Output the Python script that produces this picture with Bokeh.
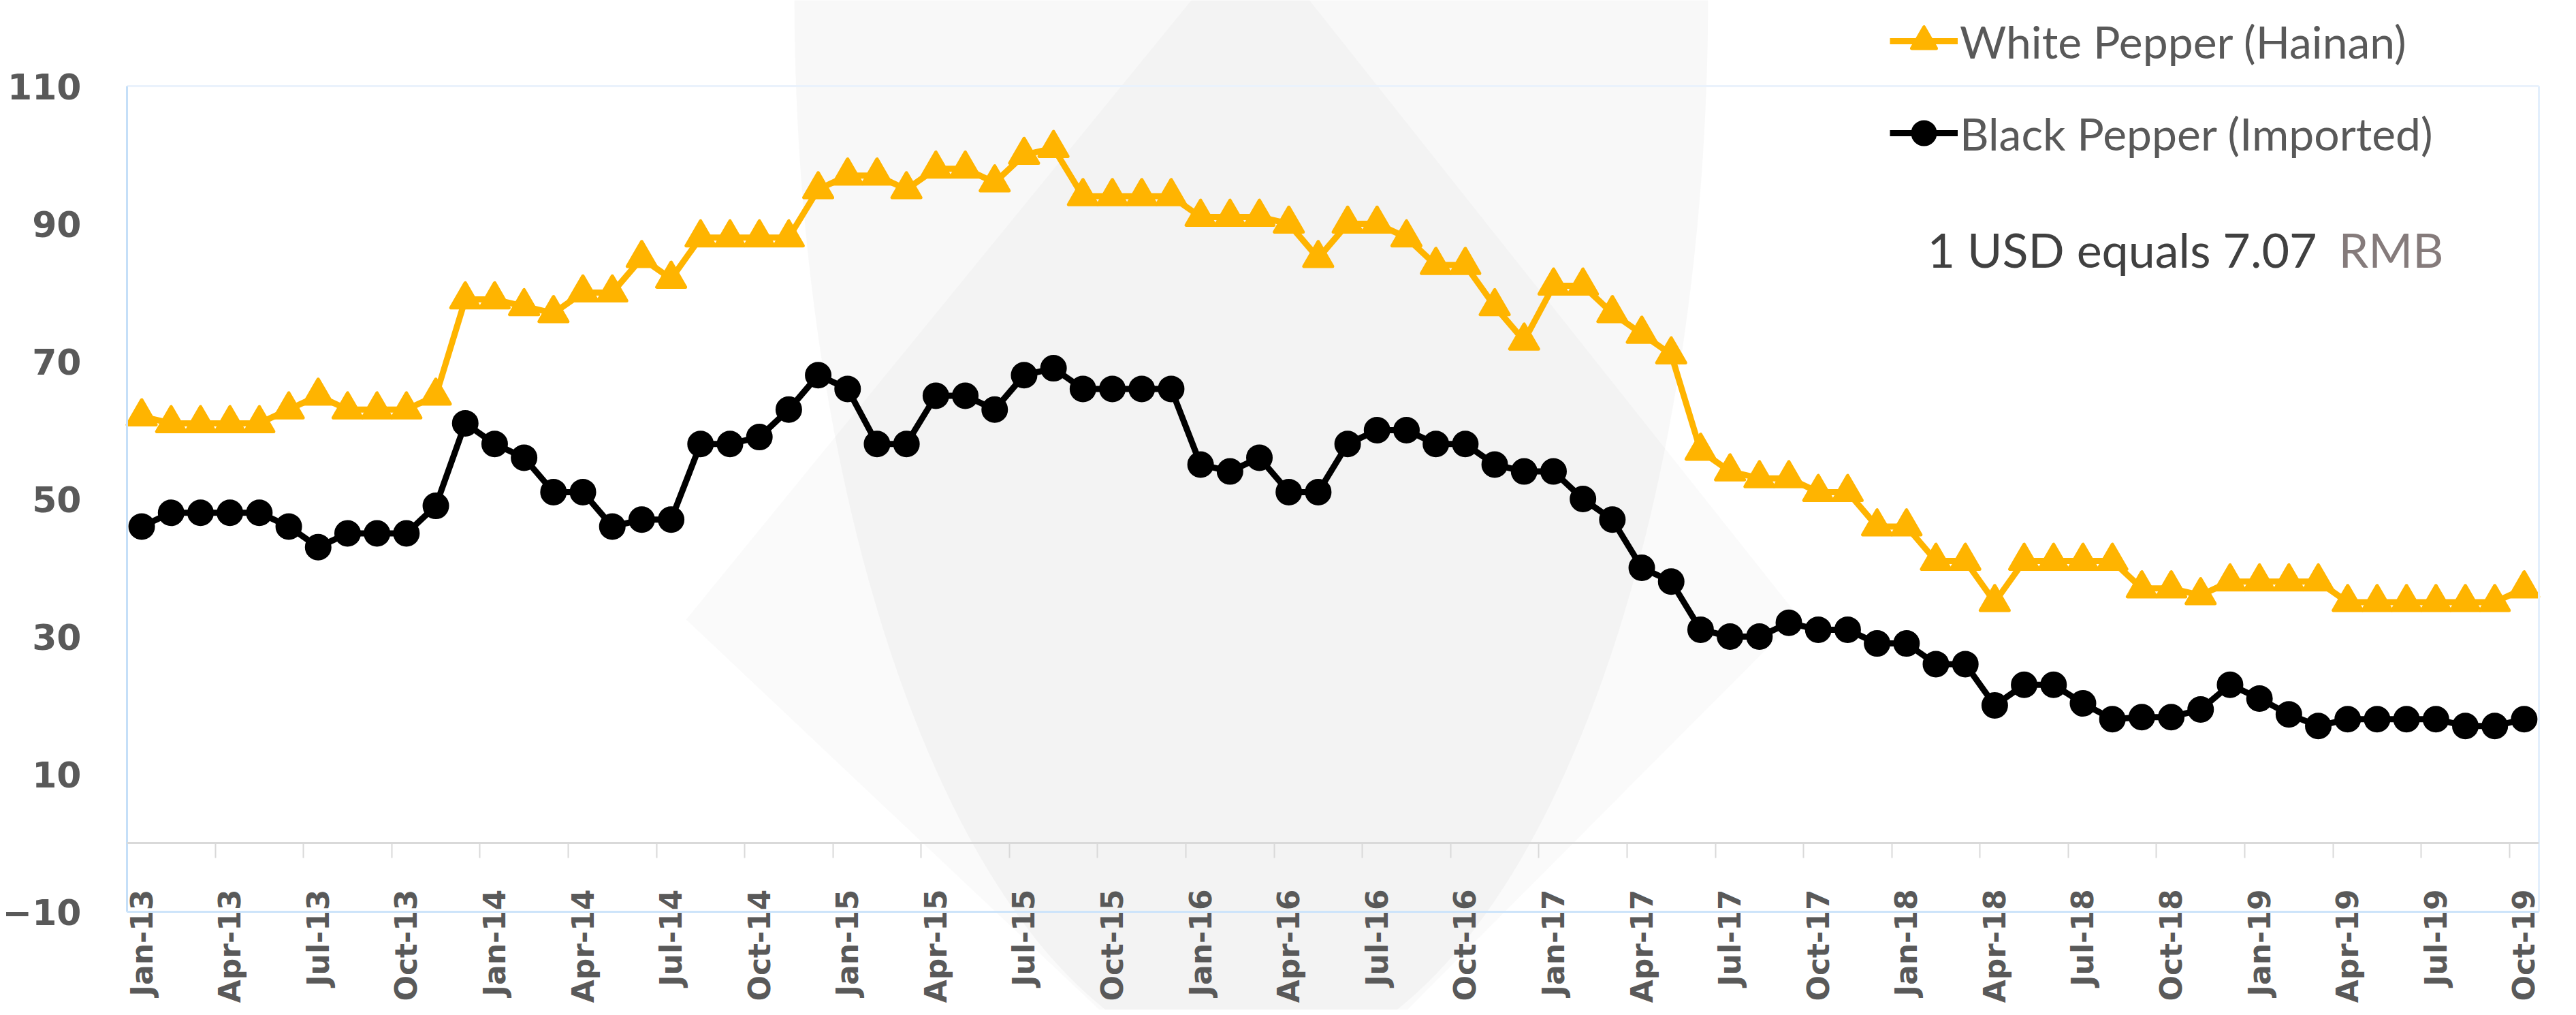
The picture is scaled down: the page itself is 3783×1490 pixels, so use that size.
import math
from bokeh.plotting import figure
from bokeh.models import Range1d, FixedTicker, Legend, LegendItem, Label, BoxAnnotation
from bokeh.embed import file_html
from bokeh.resources import INLINE

# ---------------- data ----------------
tick_labels = ["Jan-13", "Apr-13", "Jul-13", "Oct-13", "Jan-14", "Apr-14", "Jul-14", "Oct-14",
               "Jan-15", "Apr-15", "Jul-15", "Oct-15", "Jan-16", "Apr-16", "Jul-16", "Oct-16",
               "Jan-17", "Apr-17", "Jul-17", "Oct-17", "Jan-18", "Apr-18", "Jul-18", "Oct-18",
               "Jan-19", "Apr-19", "Jul-19", "Oct-19"]

white_pepper = [62, 61, 61, 61, 61, 63, 65, 63, 63, 63, 65, 79,
                79, 78, 77, 80, 80, 85, 82, 88, 88, 88, 88, 95,
                97, 97, 95, 98, 98, 96, 100, 101, 94, 94, 94, 94,
                91, 91, 91, 90, 85, 90, 90, 88, 84, 84, 78, 73,
                81, 81, 77, 74, 71, 57, 54, 53, 53, 51, 51, 46,
                46, 41, 41, 35, 41, 41, 41, 41, 37, 37, 36, 38,
                38, 38, 38, 35, 35, 35, 35, 35, 35, 37]

black_pepper = [46, 48, 48, 48, 48, 46, 43, 45, 45, 45, 49, 61,
                58, 56, 51, 51, 46, 47, 47, 58, 58, 59, 63, 68,
                66, 58, 58, 65, 65, 63, 68, 69, 66, 66, 66, 66,
                55, 54, 56, 51, 51, 58, 60, 60, 58, 58, 55, 54,
                54, 50, 47, 40, 38, 31, 30, 30, 32, 31, 31, 29,
                29, 26, 26, 20, 23, 23, 20.3, 18, 18.3, 18.3, 19.4, 23,
                21, 18.7, 17, 18, 18, 18, 18, 17, 17, 18]

y_ticks = [-10, 10, 30, 50, 70, 90, 110]
y_min, y_max = -10, 110
series_names = ["White Pepper (Hainan)", "Black Pepper (Imported)"]
note_main = "1 USD equals 7.07"
note_unit = "RMB"

# ---------------- layout ----------------
W, H = 3775, 1482
L, R, T, B = 186, 47, 126, 144          # plot-area insets in pixels
N = len(white_pepper)
x = list(range(N))
tick_pos = list(range(0, N, 3))
x_lo, x_hi = -0.5, N - 0.5

ux = (W - L - R) / (x_hi - x_lo)        # px per month
uy = (H - T - B) / (y_max - y_min)      # px per unit
x_start, x_end = x_lo - L / ux, x_hi + R / ux
y_start, y_end = y_min - B / uy, y_max + T / uy

YEL = "#FFB400"
AXIS_TXT = "#595959"
TICK_FONT = "DejaVu Sans"


def px_x(xr):  # reference-picture pixel -> data x
    return (xr - 8) / ux + x_start


def px_y(yr):  # reference-picture pixel -> data y
    return y_end - (yr - 8) / uy


def vbar_line(xc, b, t, color, w=3):
    return BoxAnnotation(left=xc - w / 2 / ux, right=xc + w / 2 / ux, bottom=b, top=t,
                         fill_color=color, fill_alpha=1, line_color=None)


def hbar_line(yc, l, r, color, w=3):
    return BoxAnnotation(left=l, right=r, bottom=yc - w / 2 / uy, top=yc + w / 2 / uy,
                         fill_color=color, fill_alpha=1, line_color=None)


p = figure(width=W, height=H, output_backend="svg", toolbar_location=None,
           x_range=Range1d(x_start, x_end), y_range=Range1d(y_start, y_end),
           min_border=0, background_fill_color="white", border_fill_color="white")
p.xgrid.visible = False
p.ygrid.visible = False
p.outline_line_color = None

# faint watermark (background decoration)
p.ellipse(x=px_x(1845), y=px_y(0), width=2 * 671 / ux, height=2 * 1572 / uy,
          fill_color="black", fill_alpha=0.028, line_color=None)
p.patch([px_x(v) for v in (1845, 2649, 1855, 1015)],
        [px_y(v) for v in (-100, 913, 1710, 917)],
        fill_color="black", fill_alpha=0.02, line_color=None)

# plot-area border
p.add_layout(hbar_line(y_max, x_lo, x_hi, "#EAF2FC"))
p.add_layout(vbar_line(x_hi, y_min, y_max, "#E3EFFC"))
p.add_layout(vbar_line(x_lo, y_min, y_max, "#C5DFF8"))
p.add_layout(hbar_line(y_min, x_lo, x_hi, "#CDE4FA"))
# category axis line at 0
p.add_layout(hbar_line(0, x_lo, x_hi, "#D9D9D9"))

# series
wl = p.line(x, white_pepper, line_color=YEL, line_width=9, line_join="round")
ws = p.scatter(x, white_pepper, marker="triangle", size=42, fill_color=YEL,
               line_color=YEL, line_width=5, line_join="round")
bl = p.line(x, black_pepper, line_color="black", line_width=9, line_join="round")
bs = p.scatter(x, black_pepper, marker="circle", size=37, fill_color="black",
               line_color="black", line_width=2)

# y axis
yax = p.yaxis[0]
yax.fixed_location = x_lo
yax.ticker = FixedTicker(ticks=y_ticks)
yax.axis_line_color = None
yax.major_tick_out = 0
yax.major_tick_in = 0
yax.minor_tick_out = 0
yax.minor_tick_in = 0
yax.major_label_standoff = 67
yax.major_label_text_font = TICK_FONT
yax.major_label_text_font_style = "bold"
yax.major_label_text_font_size = "52px"
yax.major_label_text_color = AXIS_TXT

# x axis (crosses at 0)
xax = p.xaxis[0]
xax.fixed_location = 0
xax.ticker = FixedTicker(ticks=tick_pos, minor_ticks=[t - 0.5 for t in tick_pos])
xax.major_label_overrides = {t: lab for t, lab in zip(tick_pos, tick_labels)}
xax.axis_line_color = None
xax.major_tick_out = 0
xax.major_tick_in = 0
xax.minor_tick_out = 22
xax.minor_tick_in = 0
xax.minor_tick_line_color = "#D9D9D9"
xax.minor_tick_line_width = 2
xax.major_label_orientation = math.pi / 2
xax.major_label_standoff = 46
xax.major_label_text_font = TICK_FONT
xax.major_label_text_font_style = "bold"
xax.major_label_text_font_size = "44px"
xax.major_label_text_color = AXIS_TXT

legend = Legend(items=[LegendItem(label=series_names[0], renderers=[wl, ws]),
                       LegendItem(label=series_names[1], renderers=[bl, bs])],
                location=(2775, 1242), orientation="vertical",
                glyph_width=100, glyph_height=90, label_height=90, spacing=45,
                padding=0, margin=0, label_standoff=3,
                border_line_color=None, background_fill_alpha=0,
                label_text_font="Lato", label_text_font_size="66px",
                label_text_color=AXIS_TXT)
p.add_layout(legend)

p.add_layout(Label(x=px_x(2838), y=px_y(373), text=note_main, text_font="Lato",
                   text_font_size="70px", text_color="#404040", text_baseline="alphabetic"))
p.add_layout(Label(x=px_x(3442), y=px_y(373), text=note_unit, text_font="Lato",
                   text_font_size="70px", text_color="#857B7B", text_baseline="alphabetic"))

open("out.html", "w").write(file_html(p, INLINE))
